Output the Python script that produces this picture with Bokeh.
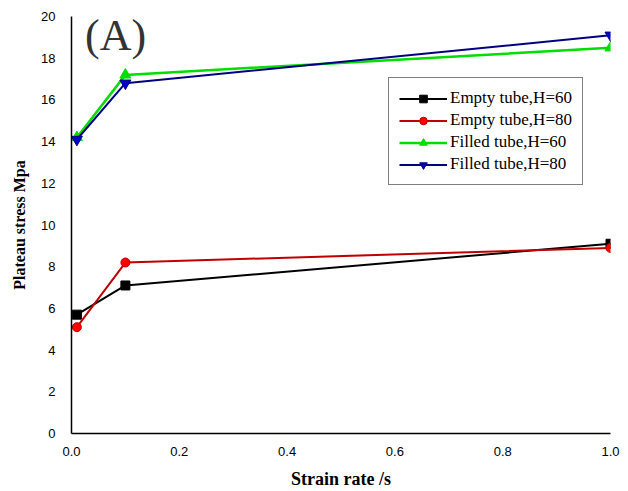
from bokeh.plotting import figure
from bokeh.models import Legend, LegendItem, Label, FixedTicker
from bokeh.embed import file_html
from bokeh.resources import INLINE

strain_rate = [0.01, 0.1, 1.0]
empty_h60 = [5.7, 7.1, 9.1]
empty_h80 = [5.1, 8.2, 8.9]
filled_h60 = [14.2, 17.2, 18.5]
filled_h80 = [14.1, 16.8, 19.1]
series_names = ["Empty tube,H=60", "Empty tube,H=80", "Filled tube,H=60", "Filled tube,H=80"]
x_ticks = [0.0, 0.2, 0.4, 0.6, 0.8, 1.0]
y_ticks = [0, 2, 4, 6, 8, 10, 12, 14, 16, 18, 20]

p = figure(width=628, height=491, output_backend="svg", toolbar_location=None,
           x_range=(0, 1.0), y_range=(0, 20),
           min_border_left=71, min_border_right=18, min_border_top=16, min_border_bottom=50)
p.outline_line_color = None
p.xgrid.grid_line_color = None
p.ygrid.grid_line_color = None

for ax in (p.xaxis, p.yaxis):
    ax.axis_line_color = "black"
    ax.axis_line_width = 1.5
    ax.major_tick_line_color = None
    ax.minor_tick_line_color = None
    ax.major_label_text_font = "Liberation Sans"
    ax.major_label_text_font_size = "13px"
    ax.major_label_text_color = "black"
    ax.axis_label_text_font = "Liberation Serif"
    ax.axis_label_text_font_style = "bold"
    ax.axis_label_text_color = "black"

p.xaxis.ticker = FixedTicker(ticks=x_ticks)
p.yaxis.ticker = FixedTicker(ticks=y_ticks)
p.xaxis.major_label_overrides = {t: f"{t:.1f}" for t in x_ticks}
p.xaxis.axis_label = "Strain rate /s"
p.xaxis.axis_label_text_font_size = "18px"
p.xaxis.axis_label_standoff = 10
p.yaxis.axis_label = "Plateau stress Mpa"
p.yaxis.axis_label_text_font_size = "16px"
p.yaxis.axis_label_standoff = 10
p.xaxis.major_label_standoff = 7
p.yaxis.major_label_standoff = 10

items = []
l1 = p.line(strain_rate, empty_h60, line_color="black", line_width=2)
m1 = p.scatter(strain_rate, empty_h60, marker="square", size=9, fill_color="black", line_color="black")
items.append(LegendItem(label=series_names[0], renderers=[l1, m1]))

l2 = p.line(strain_rate, empty_h80, line_color="#c00000", line_width=2)
m2 = p.scatter(strain_rate, empty_h80, marker="circle", size=9, fill_color="red", line_color="#c00000")
items.append(LegendItem(label=series_names[1], renderers=[l2, m2]))

l3 = p.line(strain_rate, filled_h60, line_color="#00dd00", line_width=2.5)
m3 = p.scatter(strain_rate, filled_h60, marker="triangle", size=11, fill_color="#00dd00", line_color="#00dd00")
items.append(LegendItem(label=series_names[2], renderers=[l3, m3]))

l4 = p.line(strain_rate, filled_h80, line_color="#000080", line_width=2)
m4 = p.scatter(strain_rate, filled_h80, marker="inverted_triangle", size=11, fill_color="#0000cc", line_color="#000080")
items.append(LegendItem(label=series_names[3], renderers=[l4, m4]))

legend = Legend(items=items, location=(317, 248))
legend.border_line_color = "black"
legend.border_line_width = 1
legend.label_text_font = "Liberation Serif"
legend.label_text_font_size = "17px"
legend.label_text_color = "black"
legend.glyph_width = 48
legend.glyph_height = 19
legend.label_height = 19
legend.spacing = 2
legend.padding = 10
legend.margin = 0
legend.label_standoff = 3
legend.background_fill_alpha = 1
p.add_layout(legend, "center")

p.add_layout(Label(x=0.025, y=17.9, text="(A)", text_font="Liberation Serif",
                   text_font_size="44px", text_color="#333333"))

open("out.html", "w").write(file_html(p, INLINE))
